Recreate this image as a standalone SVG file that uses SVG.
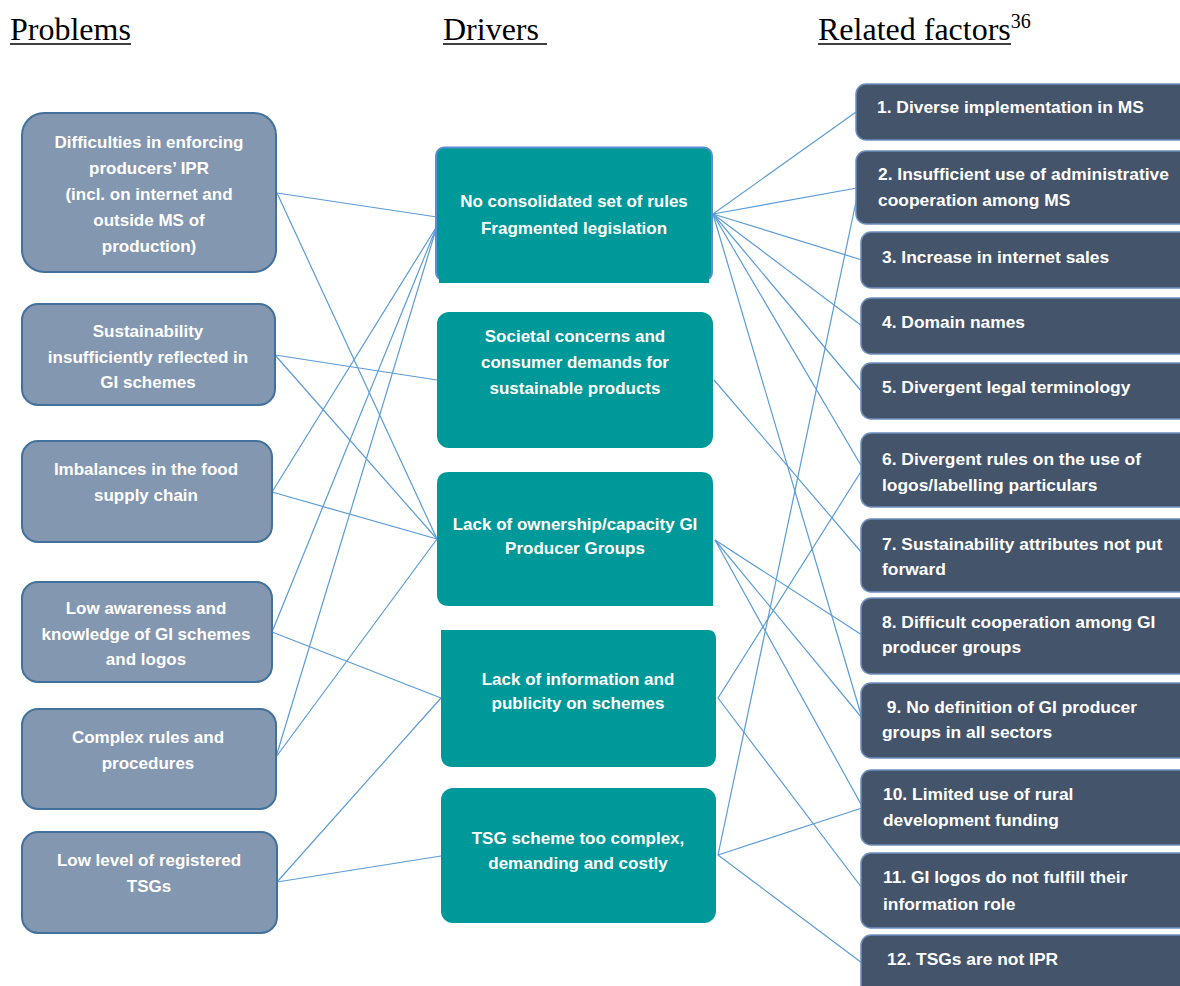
<svg xmlns="http://www.w3.org/2000/svg" width="1180" height="986" viewBox="0 0 1180 986">
<style>
  .hdr{font-family:"Liberation Serif","Times New Roman",serif;font-size:32px;fill:#000;}
  .prob rect{fill:#8497B0;stroke:#41719C;stroke-width:2;}
  .drv .bx{fill:#00999A;}
  .rel rect{fill:#44546A;stroke:#6C8EBF;stroke-width:1.5;}
  .t{font-family:"Liberation Sans",Arial,sans-serif;font-weight:bold;font-size:17px;fill:#fff;}
  .rel .t{font-size:17.4px;}
  .c{text-anchor:middle;}
  #connectors line{stroke:#5B9BD5;stroke-width:1.2;fill:none;}
</style>

<!-- headers -->
<g id="headers">
  <text class="hdr" x="10" y="40">Problems</text>
  <line x1="10" y1="44" x2="131" y2="44" stroke="#000" stroke-width="1.6"/>
  <text class="hdr" x="443" y="40">Drivers</text>
  <line x1="443" y1="44" x2="547" y2="44" stroke="#000" stroke-width="1.6"/>
  <text class="hdr" x="818" y="40">Related factors<tspan font-size="20" dy="-12">36</tspan></text>
  <line x1="818" y1="44" x2="1011" y2="44" stroke="#000" stroke-width="1.6"/>
</g>

<!-- connectors -->
<g id="connectors">
  <line x1="277" y1="193" x2="437" y2="217"/>
  <line x1="277" y1="193" x2="437" y2="539"/>
  <line x1="275" y1="355" x2="437" y2="380"/>
  <line x1="275" y1="355" x2="437" y2="539"/>
  <line x1="272" y1="492" x2="437" y2="226"/>
  <line x1="272" y1="492" x2="437" y2="539"/>
  <line x1="272" y1="632" x2="437" y2="226"/>
  <line x1="272" y1="632" x2="441" y2="698"/>
  <line x1="276" y1="757" x2="437" y2="226"/>
  <line x1="276" y1="757" x2="437" y2="539"/>
  <line x1="277" y1="882" x2="441" y2="698"/>
  <line x1="277" y1="882" x2="441" y2="856"/>

  <line x1="713" y1="214" x2="856" y2="112"/>
  <line x1="713" y1="214" x2="857" y2="188"/>
  <line x1="713" y1="214" x2="862" y2="260"/>
  <line x1="713" y1="214" x2="862" y2="326"/>
  <line x1="713" y1="214" x2="862" y2="392"/>
  <line x1="713" y1="214" x2="862" y2="467"/>
  <line x1="713" y1="214" x2="862" y2="718"/>
  <line x1="714" y1="380" x2="862" y2="553"/>
  <line x1="715" y1="540" x2="862" y2="635"/>
  <line x1="715" y1="540" x2="862" y2="718"/>
  <line x1="715" y1="540" x2="862" y2="806"/>
  <line x1="718" y1="698" x2="862" y2="470"/>
  <line x1="718" y1="698" x2="862" y2="888"/>
  <line x1="718" y1="855" x2="857" y2="197"/>
  <line x1="718" y1="855" x2="862" y2="808"/>
  <line x1="718" y1="855" x2="862" y2="963"/>
</g>

<!-- Problems -->
<g id="p1" class="prob">
  <rect x="22" y="113" width="254" height="159" rx="22"/>
  <text class="t c" x="149" y="148">Difficulties in enforcing</text>
  <text class="t c" x="149" y="174">producers’ IPR</text>
  <text class="t c" x="149" y="200">(incl. on internet and</text>
  <text class="t c" x="149" y="226">outside MS of</text>
  <text class="t c" x="149" y="252">production)</text>
</g>
<g id="p2" class="prob">
  <rect x="22" y="304" width="253" height="101" rx="16"/>
  <text class="t c" x="148" y="337">Sustainability</text>
  <text class="t c" x="148" y="363">insufficiently reflected in</text>
  <text class="t c" x="148" y="388">GI schemes</text>
</g>
<g id="p3" class="prob">
  <rect x="22" y="441" width="250" height="101" rx="16"/>
  <text class="t c" x="146" y="475">Imbalances in the food</text>
  <text class="t c" x="146" y="501">supply chain</text>
</g>
<g id="p4" class="prob">
  <rect x="22" y="582" width="250" height="100" rx="16"/>
  <text class="t c" x="146" y="614">Low awareness and</text>
  <text class="t c" x="146" y="640">knowledge of GI schemes</text>
  <text class="t c" x="146" y="665">and logos</text>
</g>
<g id="p5" class="prob">
  <rect x="22" y="709" width="254" height="100" rx="16"/>
  <text class="t c" x="148" y="743">Complex rules and</text>
  <text class="t c" x="148" y="769">procedures</text>
</g>
<g id="p6" class="prob">
  <rect x="22" y="832" width="255" height="101" rx="16"/>
  <text class="t c" x="149" y="866">Low level of registered</text>
  <text class="t c" x="149" y="892">TSGs</text>
</g>

<!-- Drivers -->
<g id="d1" class="drv">
  <rect x="436" y="147.5" width="276" height="133" rx="8" fill="#00999A" stroke="#5B8ED6" stroke-width="2"/>
  <rect class="bx" x="439" y="151" width="270" height="132"/>
  <text class="t c" x="574" y="207">No consolidated set of rules</text>
  <text class="t c" x="574" y="234">Fragmented legislation</text>
</g>
<g id="d2" class="drv">
  <rect class="bx" x="437" y="312" width="276" height="136" rx="12"/>
  <text class="t c" x="575" y="342">Societal concerns and</text>
  <text class="t c" x="575" y="368">consumer demands for</text>
  <text class="t c" x="575" y="394">sustainable products</text>
</g>
<g id="d3" class="drv">
  <path class="bx" d="M449,472 H701 Q713,472 713,484 V606 H449 Q437,606 437,594 V484 Q437,472 449,472 Z"/>
  <text class="t c" x="575" y="530">Lack of ownership/capacity GI</text>
  <text class="t c" x="575" y="554">Producer Groups</text>
</g>
<g id="d4" class="drv">
  <path class="bx" d="M441,630 H709 Q716,630 716,640 V755 Q716,767 704,767 H453 Q441,767 441,755 Z"/>
  <text class="t c" x="578" y="685">Lack of information and</text>
  <text class="t c" x="578" y="709">publicity on schemes</text>
</g>
<g id="d5" class="drv">
  <rect class="bx" x="441" y="788" width="275" height="135" rx="12"/>
  <text class="t c" x="578" y="844">TSG scheme too complex,</text>
  <text class="t c" x="578" y="869">demanding and costly</text>
</g>

<!-- Related factors -->
<g id="r1" class="rel">
  <rect x="856" y="84" width="340" height="56" rx="10"/>
  <text class="t" x="877" y="113">1. Diverse implementation in MS</text>
</g>
<g id="r2" class="rel">
  <rect x="856" y="151" width="340" height="73" rx="10"/>
  <text class="t" x="878" y="180">2. Insufficient use of administrative</text>
  <text class="t" x="878" y="206">cooperation among MS</text>
</g>
<g id="r3" class="rel">
  <rect x="861" y="232" width="340" height="56" rx="10"/>
  <text class="t" x="882" y="263">3. Increase in internet sales</text>
</g>
<g id="r4" class="rel">
  <rect x="861" y="298" width="340" height="56" rx="10"/>
  <text class="t" x="882" y="328">4. Domain names</text>
</g>
<g id="r5" class="rel">
  <rect x="861" y="363" width="340" height="56" rx="10"/>
  <text class="t" x="882" y="393">5. Divergent legal terminology</text>
</g>
<g id="r6" class="rel">
  <rect x="861" y="433" width="340" height="74" rx="10"/>
  <text class="t" x="882" y="465">6. Divergent rules on the use of</text>
  <text class="t" x="882" y="491">logos/labelling particulars</text>
</g>
<g id="r7" class="rel">
  <rect x="861" y="519" width="340" height="73" rx="10"/>
  <text class="t" x="882" y="550">7. Sustainability attributes not put</text>
  <text class="t" x="882" y="575">forward</text>
</g>
<g id="r8" class="rel">
  <rect x="861" y="598" width="340" height="76" rx="10"/>
  <text class="t" x="882" y="628">8. Difficult cooperation among GI</text>
  <text class="t" x="882" y="653">producer groups</text>
</g>
<g id="r9" class="rel">
  <rect x="861" y="683" width="340" height="75" rx="10"/>
  <text class="t" x="882" y="713" xml:space="preserve"> 9. No definition of GI producer</text>
  <text class="t" x="882" y="738">groups in all sectors</text>
</g>
<g id="r10" class="rel">
  <rect x="861" y="770" width="340" height="75" rx="10"/>
  <text class="t" x="883" y="800">10. Limited use of rural</text>
  <text class="t" x="883" y="826">development funding</text>
</g>
<g id="r11" class="rel">
  <rect x="861" y="853" width="340" height="75" rx="10"/>
  <text class="t" x="883" y="883">11. GI logos do not fulfill their</text>
  <text class="t" x="883" y="910">information role</text>
</g>
<g id="r12" class="rel">
  <rect x="861" y="935" width="340" height="70" rx="10"/>
  <text class="t" x="887" y="965">12. TSGs are not IPR</text>
</g>
</svg>
